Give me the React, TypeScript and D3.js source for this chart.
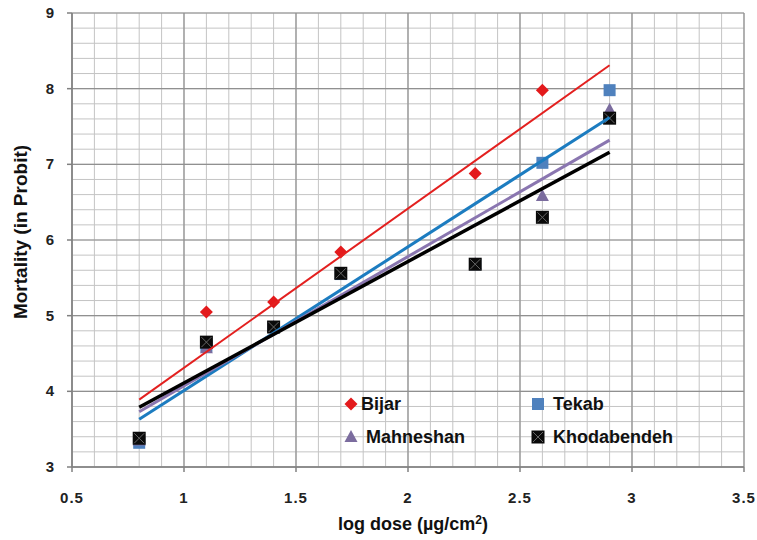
import React from 'react';
import * as d3 from 'd3';

// doses (log scale) used for every series
const doses = [0.8, 1.1, 1.4, 1.7, 2.3, 2.6, 2.9];

const seriesNames = ['Bijar', 'Tekab', 'Mahneshan', 'Khodabendeh'];

// probit values (null = no marker)
const bijar = [null, 5.05, 5.18, 5.84, 6.88, 7.98, null];
const tekab = [3.32, 4.6, 4.85, 5.55, 5.68, 7.02, 7.98];
const mahneshan = [3.35, 4.57, 4.85, 5.55, 5.68, 6.58, 7.72];
const khodabendeh = [3.38, 4.65, 4.85, 5.56, 5.68, 6.3, 7.61];

// linear trendlines: value at first and last dose
const trendX = [0.8, 2.9];
const bijarTrend = [3.89, 8.31];
const tekabTrend = [3.63, 7.62];
const mahneshanTrend = [3.73, 7.32];
const khodabendehTrend = [3.79, 7.16];

const xTicks = [0.5, 1, 1.5, 2, 2.5, 3, 3.5];
const yTicks = [3, 4, 5, 6, 7, 8, 9];

const W = 757;
const H = 540;

export default function App() {
  const x = d3.scaleLinear().domain([0.5, 3.5]).range([72, 744]);
  const y = d3.scaleLinear().domain([3, 9]).range([467, 13]);

  const minorX = d3.range(5, 36).map(d => d / 10);
  const minorY = d3.range(15, 46).map(d => d / 5);

  const line = d3.line<[number, number]>()
    .x(d => x(d[0]))
    .y(d => y(d[1]));

  const trends = [
    { v: bijarTrend, color: '#e3201f', w: 2 },
    { v: tekabTrend, color: '#1c7cc0', w: 3 },
    { v: mahneshanTrend, color: '#8a76b0', w: 3 },
    { v: khodabendehTrend, color: '#000000', w: 3.5 },
  ];

  const font = '"Liberation Sans", Arial, sans-serif';

  const diamond = (cx: number, cy: number, k: string | number) => (
    <path key={k} d={`M${cx},${cy - 6.5}L${cx + 6.5},${cy}L${cx},${cy + 6.5}L${cx - 6.5},${cy}Z`} fill="#e31a1c" />
  );
  const blueSq = (cx: number, cy: number, k: string | number) => (
    <rect key={k} x={cx - 6} y={cy - 6} width={12} height={12} fill="#4f81bd" />
  );
  const triangle = (cx: number, cy: number, k: string | number) => (
    <path key={k} d={`M${cx},${cy - 7}L${cx + 6.5},${cy + 5}L${cx - 6.5},${cy + 5}Z`} fill="#7b6c9e" />
  );
  const blackSq = (cx: number, cy: number, k: string | number) => (
    <g key={k}>
      <rect x={cx - 6.5} y={cy - 6.5} width={13} height={13} fill="#0a0a0a" />
      <path d={`M${cx - 5},${cy - 5}L${cx + 5},${cy + 5}M${cx + 5},${cy - 5}L${cx - 5},${cy + 5}`} stroke="#666" strokeWidth={1} />
    </g>
  );

  const markerFns = [diamond, blueSq, triangle, blackSq];
  const values = [bijar, tekab, mahneshan, khodabendeh];

  return (
    <svg width={W} height={H} style={{ position: 'absolute', left: 0, top: 0, background: '#fff' }}>
      <rect width={W} height={H} fill="#fff" />
      {/* minor grid */}
      {minorX.map((d, i) => (
        <line key={'mx' + i} x1={x(d)} x2={x(d)} y1={y(9)} y2={y(3)} stroke="#c4c4c4" strokeWidth={1} />
      ))}
      {minorY.map((d, i) => (
        <line key={'my' + i} x1={x(0.5)} x2={x(3.5)} y1={y(d)} y2={y(d)} stroke="#c4c4c4" strokeWidth={1} />
      ))}
      {/* major grid */}
      {xTicks.map((d, i) => (
        <line key={'gx' + i} x1={x(d)} x2={x(d)} y1={y(9)} y2={y(3)} stroke="#909090" strokeWidth={1.2} />
      ))}
      {yTicks.map((d, i) => (
        <line key={'gy' + i} x1={x(0.5)} x2={x(3.5)} y1={y(d)} y2={y(d)} stroke="#909090" strokeWidth={1.2} />
      ))}
      {/* axes */}
      <line x1={x(0.5)} x2={x(0.5)} y1={y(9)} y2={y(3)} stroke="#808080" strokeWidth={1.5} />
      <line x1={x(0.5)} x2={x(3.5)} y1={y(3)} y2={y(3)} stroke="#808080" strokeWidth={1.5} />
      {xTicks.map((d, i) => (
        <g key={'xt' + i}>
          <line x1={x(d)} x2={x(d)} y1={y(3)} y2={y(3) + 5} stroke="#808080" strokeWidth={1.5} />
          <text x={x(d)} y={503} textAnchor="middle" fontFamily={font} fontWeight="bold" fontSize={15} letterSpacing={1} fill="#222">
            {d}
          </text>
        </g>
      ))}
      {yTicks.map((d, i) => (
        <g key={'yt' + i}>
          <line x1={x(0.5) - 5} x2={x(0.5)} y1={y(d)} y2={y(d)} stroke="#808080" strokeWidth={1.5} />
          <text x={54} y={y(d) + 5} textAnchor="end" fontFamily={font} fontWeight="bold" fontSize={15} fill="#222">
            {d}
          </text>
        </g>
      ))}

      {/* markers */}
      {values.map((vals, si) =>
        vals.map((v, i) => (v == null ? null : markerFns[si](x(doses[i]), y(v), si + '-' + i)))
      )}

      {/* trendlines */}
      {trends.map((t, i) => (
        <path key={'tr' + i} d={line(trendX.map((d, j) => [d, t.v[j]]) as [number, number][]) || ''} fill="none" stroke={t.color} strokeWidth={t.w} />
      ))}

      {/* legend */}
      {seriesNames.map((name, i) => {
        const col = i % 2;
        const row = Math.floor(i / 2);
        const mx = col === 0 ? 351 : 538;
        const my = row === 0 ? 404 : 437;
        return (
          <g key={'lg' + i}>
            {markerFns[i](mx, my, 'm')}
            <text x={mx + (i === 0 ? 10 : 15)} y={my + 6} fontFamily={font} fontWeight="bold" fontSize={18} fill="#111">
              {name}
            </text>
          </g>
        );
      })}

      {/* axis titles */}
      <text x={413} y={530} textAnchor="middle" fontFamily={font} fontWeight="bold" fontSize={18} fill="#111">
        log dose (µg/cm<tspan fontSize={12} dy={-6}>2</tspan><tspan dy={6}>)</tspan>
      </text>
      <text transform={`translate(27,${232}) rotate(-90)`} textAnchor="middle" fontFamily={font} fontWeight="bold" fontSize={19} fill="#111">
        Mortality (in Probit)
      </text>
    </svg>
  );
}
